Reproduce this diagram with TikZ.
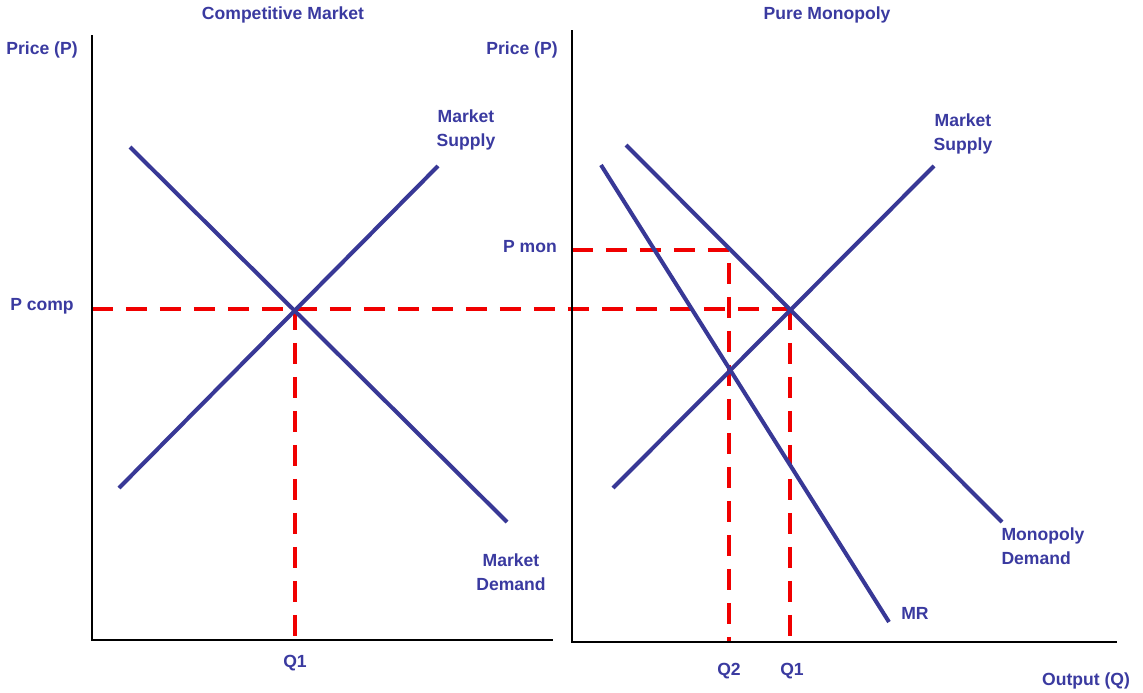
\documentclass[tikz,border=0pt]{standalone}
\usepackage{fontspec}
\setmainfont{Liberation Sans}
\usetikzlibrary{positioning,calc}

\definecolor{curveblue}{RGB}{56,56,150}
\definecolor{labelblue}{RGB}{58,58,160}
\definecolor{guidered}{RGB}{240,0,0}

\tikzset{
  axis/.style={draw=black, line width=1.6pt},
  curve/.style={draw=curveblue, line width=2.3pt},
  guide/.style={draw=guidered, line width=2.2pt, dash pattern=on 0.42cm off 0.26cm},
  lbl/.style={text=labelblue, font=\fontsize{10}{13.5}\selectfont\bfseries, inner sep=0pt, align=center}
}

\begin{document}
\begin{tikzpicture}[x=0.02cm, y=-0.02cm]
        \useasboundingbox (0,0) rectangle (1143,693);

        % competitive market
        \coordinate (lo) at (92,640);
        \coordinate (ltop) at (92,35);
        \coordinate (lend) at (553,640);
        \coordinate (s1a) at (119,488);
        \coordinate (s1b) at (438,166);
        \coordinate (d1a) at (130,147);
        \coordinate (d1b) at (507,522);
        \coordinate (e1) at (295,309);
        \coordinate (e1q) at (295,640);
        \coordinate (pcompl) at (92,309);

        % pure monopoly
        \coordinate (ro) at (572,642);
        \coordinate (rtop) at (572,30);
        \coordinate (rend) at (1117,642);
        \coordinate (s2a) at (613,488);
        \coordinate (s2b) at (934,166);
        \coordinate (d2a) at (626,145);
        \coordinate (d2b) at (1002,522);
        \coordinate (mra) at (601,165);
        \coordinate (mrb) at (889,622);
        \coordinate (e2) at (790,309);
        \coordinate (e2q) at (790,642);
        \coordinate (pmonl) at (572,250);
        \coordinate (pmonr) at (729,250);
        \coordinate (q2) at (729,642);

        \draw[guide] (pcompl) -- (e2);
        \draw[guide] (e1) -- (e1q);
        \draw[guide] (pmonl) -- (pmonr) -- (q2);
        \draw[guide] (e2) -- (e2q);

        \draw[axis] (ltop) -- (lo) -- (lend);
        \draw[axis] (rtop) -- (ro) -- (rend);

        \draw[curve] (s1a) -- (s1b);
        \draw[curve] (d1a) -- (d1b);
        \draw[curve] (s2a) -- (s2b);
        \draw[curve] (d2a) -- (d2b);
        \draw[curve] (mra) -- (mrb);

        \node[lbl] (t1) at (283,15) {Competitive Market};
        \node[lbl] (t2) at (827,15) {Pure Monopoly};
        \node[lbl] (py1) at (42,50) {Price (P)};
        \node[lbl] (py2) at (522,50) {Price (P)};
        \node[lbl] (ms1) at (466,130) {Market\\Supply};
        \node[lbl] (md1) at (511,572) {Market\\Demand};
        \node[lbl] (ms2) at (963,134) {Market\\Supply};
        \node[lbl, align=left] (md2) at (1043,546) {Monopoly\\Demand};
        \node[lbl] (mr) at (915,613) {MR};
        \node[lbl] (pcomp) at (42,306) {P comp};
        \node[lbl] (pmon) at (530,247) {P mon};
        \node[lbl] (q1l) at (295,663) {Q1};
        \node[lbl] (q2r) at (729,671) {Q2};
        \node[lbl] (q1r) at (792,671) {Q1};
        \node[lbl] (out) at (1086,681) {Output (Q)};
\end{tikzpicture}
\end{document}
